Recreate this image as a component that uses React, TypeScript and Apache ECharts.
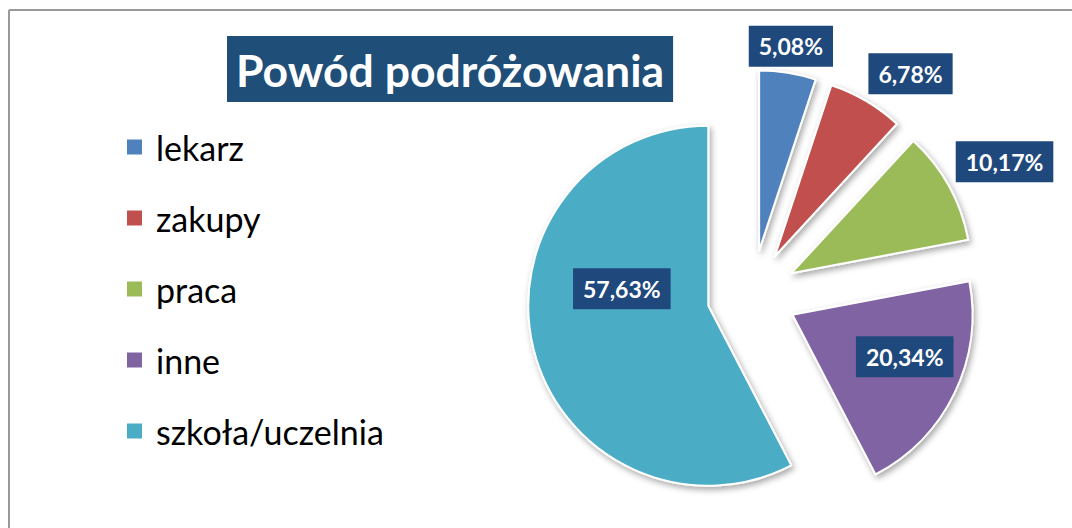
import React, { useEffect, useRef } from "react";
import * as echarts from "echarts";

const categories = ["lekarz", "zakupy", "praca", "inne", "szkoła/uczelnia"];
const values = [5.08, 6.78, 10.17, 20.34, 57.63];
const colors = ["#4F81BD", "#C0504D", "#9BBB59", "#8064A2", "#4BACC6"];
const labelLengths = [26, 48, 58, -63, -91];
const labelShifts = [
  [-1, -1],
  [20, 14],
  [5, 4],
  [7, -9],
  [0, -38],
];
const titleText = "Powód podróżowania";

export default function App() {
  const ref = useRef<HTMLDivElement>(null);
  useEffect(() => {
    if (!ref.current) return;
    const chart = echarts.init(ref.current, null, { renderer: "svg" });
    const option = {
      animation: false,
      backgroundColor: "#ffffff",
      title: {
        text: titleText,
        left: 227,
        top: 36,
        padding: [8, 9],
        backgroundColor: "#1F4E79",
        textStyle: {
          fontFamily: "Lato",
          fontWeight: "bold",
          fontSize: 44.5,
          lineHeight: 50,
          color: "#ffffff",
        },
      },
      legend: {
        orient: "vertical",
        left: 125,
        top: 127,
        padding: 0,
        icon: "rect",
        itemWidth: 17,
        itemHeight: 17,
        itemGap: 31,
        selectedMode: false,
        data: categories,
        textStyle: {
          fontFamily: "Lato",
          fontSize: 34,
          lineHeight: 40,
          color: "#000000",
          padding: [0, 0, 0, 8],
        },
      },
      graphic: [
        {
          type: "line",
          shape: { x1: 9, y1: 10, x2: 1072, y2: 10 },
          style: { stroke: "#999999", lineWidth: 2 },
        },
        {
          type: "line",
          shape: { x1: 9, y1: 10, x2: 9, y2: 528 },
          style: { stroke: "#999999", lineWidth: 2 },
        },
      ],
      series: [
        {
          type: "pie",
          center: [752, 295],
          radius: 180,
          startAngle: 90,
          clockwise: true,
          selectedMode: "multiple",
          selectedOffset: 45,
          avoidLabelOverlap: false,
          emphasis: { disabled: true },
          itemStyle: {
            borderColor: "#ffffff",
            borderWidth: 2,
            shadowBlur: 6,
            shadowOffsetX: 2,
            shadowOffsetY: 3,
            shadowColor: "rgba(0,0,0,0.35)",
          },
          label: {
            show: true,
            position: "outside",
            formatter: (p: any) => p.value.toFixed(2).replace(".", ",") + "%",
            backgroundColor: "#1F497D",
            color: "#ffffff",
            fontFamily: "Lato",
            fontWeight: "bold",
            fontSize: 23,
            lineHeight: 23,
            padding: [9, 10],
            distanceToLabelLine: 0,
          },
          labelLine: { show: false, length2: 0 },
          labelLayout: (p: any) => ({
            align: "center",
            verticalAlign: "middle",
            dx: labelShifts[p.dataIndex][0],
            dy: labelShifts[p.dataIndex][1],
          }),
          data: categories.map((name, i) => ({
            name,
            value: values[i],
            selected: true,
            itemStyle: { color: colors[i] },
            labelLine: { show: false, length: labelLengths[i], length2: 0 },
          })),
        },
      ],
    };
    chart.setOption(option as any);
    return () => chart.dispose();
  }, []);
  return (
    <div
      ref={ref}
      style={{ position: "absolute", left: 0, top: 0, width: 1072, height: 528 }}
    />
  );
}
